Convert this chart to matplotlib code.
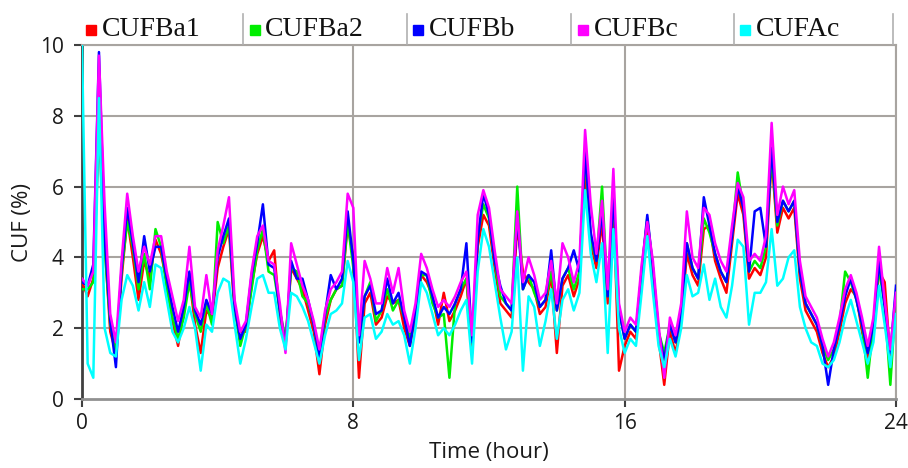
import matplotlib
matplotlib.use("Agg")
import matplotlib.pyplot as plt
from matplotlib.lines import Line2D
import numpy as np

# time in hours, 10-minute resolution
hours = [i / 6 for i in range(145)]

series_names = ["CUFBa1", "CUFBa2", "CUFBb", "CUFBc", "CUFAc"]
series_colors = ["#ff0000", "#00ee00", "#0000ff", "#ff00ff", "#00ffff"]

cufba1 = [
    3.3, 2.9, 3.4, 7.5, 4.4, 1.9, 1.3, 3.4, 5.1, 4.0, 2.8, 3.9,
    3.4, 4.5, 4.1, 3.3, 2.2, 1.5, 2.5, 3.4, 2.1, 1.3, 2.5, 2.3,
    3.7, 4.3, 4.8, 2.4, 1.9, 1.9, 3.2, 4.1, 4.6, 3.9, 4.2, 2.3,
    1.5, 3.7, 3.4, 3.1, 2.5, 1.9, 0.7, 2.1, 2.8, 3.1, 3.2, 4.9,
    4.0, 0.6, 2.7, 3.0, 2.1, 2.3, 2.9, 2.7, 2.8, 2.0, 1.5, 2.3,
    3.5, 3.3, 2.9, 2.1, 3.0, 2.2, 2.5, 2.9, 3.4, 1.3, 4.3, 5.2,
    4.9, 3.7, 2.7, 2.5, 2.3, 4.9, 3.6, 3.3, 3.1, 2.4, 2.6, 3.5,
    1.3, 3.2, 3.5, 2.9, 3.4, 6.5, 4.4, 3.7, 5.0, 2.7, 5.5, 0.8,
    1.5, 1.9, 1.7, 3.4, 4.8, 3.5, 1.7, 0.4, 1.9, 1.3, 2.2, 4.1,
    3.5, 3.2, 4.8, 4.9, 3.9, 3.4, 3.0, 4.4, 5.8, 5.2, 3.4, 3.7,
    3.5, 4.0, 6.8, 4.7, 5.4, 5.1, 5.4, 3.4, 2.5, 2.2, 1.9, 1.3,
    0.9, 1.2, 1.9, 2.7, 3.1, 2.9, 1.9, 1.1, 1.9, 3.6, 3.3, 1.1,
    2.7,
]

cufba2 = [
    3.1, 3.1, 3.3, 8.2, 4.3, 2.1, 1.4, 3.6, 5.0, 4.3, 3.1, 4.1,
    3.1, 4.8, 4.3, 3.1, 2.3, 1.7, 2.3, 3.3, 2.4, 1.9, 2.7, 2.1,
    5.0, 4.4, 4.9, 2.6, 1.5, 2.1, 3.1, 4.2, 4.8, 3.6, 3.5, 2.5,
    1.7, 3.7, 3.6, 2.9, 2.7, 2.1, 1.1, 2.3, 2.8, 3.1, 3.2, 5.0,
    3.7, 1.6, 2.9, 3.3, 2.2, 2.5, 3.1, 2.5, 2.8, 2.3, 1.7, 2.5,
    3.5, 3.5, 2.7, 2.3, 2.4, 0.6, 2.7, 3.1, 3.4, 1.6, 4.6, 5.5,
    5.1, 3.9, 2.9, 2.7, 2.5, 6.0, 3.1, 3.5, 3.0, 2.6, 2.8, 3.6,
    2.5, 3.4, 3.7, 3.1, 3.6, 6.9, 4.5, 3.9, 6.0, 2.9, 5.7, 2.5,
    1.7, 2.1, 1.9, 3.6, 5.1, 3.7, 1.9, 1.3, 2.1, 1.6, 2.4, 4.4,
    3.7, 3.4, 5.1, 4.7, 4.1, 3.6, 3.3, 4.6, 6.4, 5.4, 3.6, 3.9,
    3.7, 4.3, 6.9, 4.9, 5.6, 5.3, 5.6, 3.6, 2.7, 2.4, 2.1, 1.5,
    1.1, 1.4, 2.1, 3.6, 3.3, 2.8, 2.1, 0.6, 2.1, 3.7, 2.6, 0.4,
    2.9,
]

cufbb = [
    3.3, 3.2, 3.8, 9.8, 4.6, 2.2, 0.9, 3.7, 5.4, 4.4, 3.3, 4.6,
    3.6, 4.3, 4.3, 3.4, 2.6, 1.9, 2.6, 3.6, 2.5, 2.1, 2.8, 2.4,
    4.0, 4.6, 5.1, 2.6, 1.7, 2.1, 3.5, 4.4, 5.5, 3.8, 3.7, 2.5,
    1.5, 3.9, 3.4, 3.4, 2.8, 2.1, 1.2, 2.4, 3.5, 3.1, 3.4, 5.3,
    3.9, 1.6, 2.9, 3.2, 2.4, 2.5, 3.4, 2.7, 3.0, 2.3, 1.5, 2.5,
    3.6, 3.5, 2.9, 2.3, 2.6, 2.4, 2.7, 3.1, 4.4, 1.6, 4.5, 5.8,
    5.2, 3.9, 3.2, 2.7, 2.5, 5.2, 3.1, 3.5, 3.3, 2.6, 2.8, 4.2,
    2.5, 3.4, 3.7, 4.2, 3.6, 7.0, 4.7, 3.9, 5.3, 2.9, 5.8, 2.5,
    1.7, 2.1, 1.9, 3.6, 5.2, 3.7, 1.9, 1.1, 2.1, 1.6, 2.4, 4.4,
    3.7, 3.4, 5.7, 4.9, 4.1, 3.6, 3.3, 4.6, 6.0, 5.4, 3.6, 5.3,
    5.4, 4.3, 7.1, 5.0, 5.6, 5.3, 5.6, 3.6, 2.7, 2.4, 2.1, 1.5,
    0.4, 1.4, 2.1, 2.9, 3.4, 2.8, 2.1, 1.3, 2.1, 3.9, 2.6, 1.3,
    3.2,
]

cufbc = [
    3.4, 3.2, 3.6, 9.7, 5.5, 2.4, 1.6, 3.9, 5.8, 4.6, 3.6, 4.3,
    3.8, 4.6, 4.6, 3.6, 2.9, 2.2, 2.8, 4.3, 2.6, 2.3, 3.5, 2.4,
    4.2, 4.9, 5.7, 2.8, 1.9, 2.2, 3.6, 4.6, 4.9, 3.9, 3.8, 2.7,
    1.3, 4.4, 3.8, 3.2, 2.8, 2.2, 1.4, 2.5, 3.1, 3.3, 3.6, 5.8,
    5.4, 1.8, 3.9, 3.4, 2.7, 2.7, 3.7, 3.0, 3.7, 2.5, 1.9, 2.7,
    4.1, 3.7, 3.1, 2.6, 2.8, 2.6, 2.9, 3.3, 3.6, 1.8, 5.2, 5.9,
    5.4, 4.2, 3.1, 2.9, 2.7, 5.3, 3.3, 4.0, 3.5, 2.8, 3.0, 3.9,
    2.7, 4.4, 4.0, 3.3, 3.9, 7.6, 5.5, 4.1, 5.6, 3.1, 6.5, 2.7,
    1.9, 2.3, 2.1, 3.8, 5.0, 3.9, 2.1, 0.6, 2.3, 1.8, 2.7, 5.3,
    4.0, 3.7, 5.4, 5.2, 4.4, 3.9, 3.6, 4.9, 6.1, 5.7, 3.9, 4.1,
    3.9, 4.6, 7.8, 5.2, 6.0, 5.5, 5.9, 3.9, 2.9, 2.6, 2.3, 1.7,
    1.2, 1.6, 2.3, 3.1, 3.5, 3.0, 2.3, 1.5, 2.3, 4.3, 2.8, 1.4,
    3.0,
]

cufac = [
    10.0, 1.0, 0.6, 8.5, 2.0, 1.3, 1.2, 2.8, 3.5, 3.2, 2.5, 3.3,
    2.6, 3.8, 3.7, 2.8, 1.9, 1.6, 2.0, 2.6, 2.0, 0.8, 2.1, 1.9,
    3.0, 3.4, 3.3, 2.1, 1.0, 1.7, 2.6, 3.4, 3.5, 3.0, 3.0, 2.0,
    1.4, 3.0, 2.9, 2.6, 2.2, 1.6, 1.0, 1.8, 2.4, 2.5, 2.7, 3.9,
    3.3, 1.1, 2.3, 2.4, 1.7, 1.9, 2.4, 2.1, 2.2, 1.8, 1.0, 2.0,
    3.3, 3.0, 2.4, 1.8, 2.0, 1.8, 2.1, 2.5, 2.8, 1.0, 3.6, 4.8,
    4.3, 3.3, 2.3, 1.4, 1.9, 4.0, 0.8, 2.9, 2.6, 1.5, 2.2, 3.1,
    1.7, 2.8, 3.1, 2.5, 3.0, 5.9, 4.1, 3.3, 4.4, 1.3, 4.8, 2.0,
    1.3, 1.7, 1.5, 3.0, 4.6, 3.0, 1.5, 0.9, 1.7, 1.2, 2.0, 3.5,
    2.9, 3.0, 3.8, 2.8, 3.4, 2.6, 2.3, 3.2, 4.5, 4.3, 2.1, 3.0,
    3.0, 3.3, 4.8, 3.2, 3.4, 4.0, 4.2, 2.6, 2.0, 1.6, 1.5, 1.0,
    0.9, 1.1, 1.6, 2.3, 2.8, 2.2, 1.6, 1.0, 1.6, 3.2, 2.1, 0.9,
    2.4,
]

x_ticks = [0, 8, 16, 24]
y_ticks = [0, 2, 4, 6, 8, 10]

W, H = 908, 468
fig = plt.figure(figsize=(W / 100, H / 100), dpi=100)
ax = fig.add_axes([82 / W, 1 - 399 / H, (896 - 82) / W, (399 - 45) / H])

grid_c = "#a8a4a0"
for yv in y_ticks[1:]:
    ax.axhline(yv, color=grid_c, lw=1.5, zorder=1)
for xv in x_ticks[1:]:
    ax.axvline(xv, color=grid_c, lw=1.5, zorder=1)

all_series = [cufba1, cufba2, cufbb, cufbc, cufac]
for name, col, vals in zip(series_names, series_colors, all_series):
    ax.plot(hours, vals, color=col, lw=1.8, zorder=3, label=name)

ax.set_xlim(0, 24)
ax.set_ylim(0, 10)
ax.set_xticks(x_ticks)
ax.set_yticks(y_ticks)

tick_font = {"family": "Open Sans", "size": 15}
ax.set_xticklabels([str(v) for v in x_ticks], fontdict=tick_font, color="#1a1a1a")
ax.set_yticklabels([str(v) for v in y_ticks], fontdict=tick_font, color="#1a1a1a")
ax.tick_params(axis="y", direction="out", length=6, width=1.5, color="#404040", pad=7)
ax.tick_params(axis="x", direction="out", length=6, width=1.5, color="#404040", pad=4)

for s in ["top", "right"]:
    ax.spines[s].set_color(grid_c)
    ax.spines[s].set_linewidth(1.5)
ax.spines["bottom"].set_color("#909090")
ax.spines["bottom"].set_linewidth(2)
ax.spines["left"].set_color("#404040")
ax.spines["left"].set_linewidth(2)

ax.set_xlabel("Time (hour)", fontdict={"family": "Open Sans", "size": 16}, color="#1a1a1a", labelpad=6)
ax.set_ylabel("CUF (%)", fontdict={"family": "Open Sans", "size": 16}, color="#1a1a1a", labelpad=5)

# legend as a row of cells above the plot
marker_x = [91, 255, 418, 583, 745]
text_x = [102, 265, 429, 594, 756]
leg_y = 1 - 30 / H
for mx, tx, name, col in zip(marker_x, text_x, series_names, series_colors):
    fig.add_artist(Line2D([mx / W], [leg_y], marker="s", linestyle="none", markersize=7,
                          markerfacecolor=col, markeredgecolor=col))
    fig.text(tx / W, leg_y, name, ha="left", va="center",
             family="Liberation Serif", size=20, color="#111111")
for xs in [243, 407, 571, 734, 893]:
    fig.add_artist(Line2D([xs / W, xs / W], [1 - 44 / H, 1 - 14 / H],
                          color="#b0b0b0", lw=1.2))

fig.savefig("out.png", dpi=100)
